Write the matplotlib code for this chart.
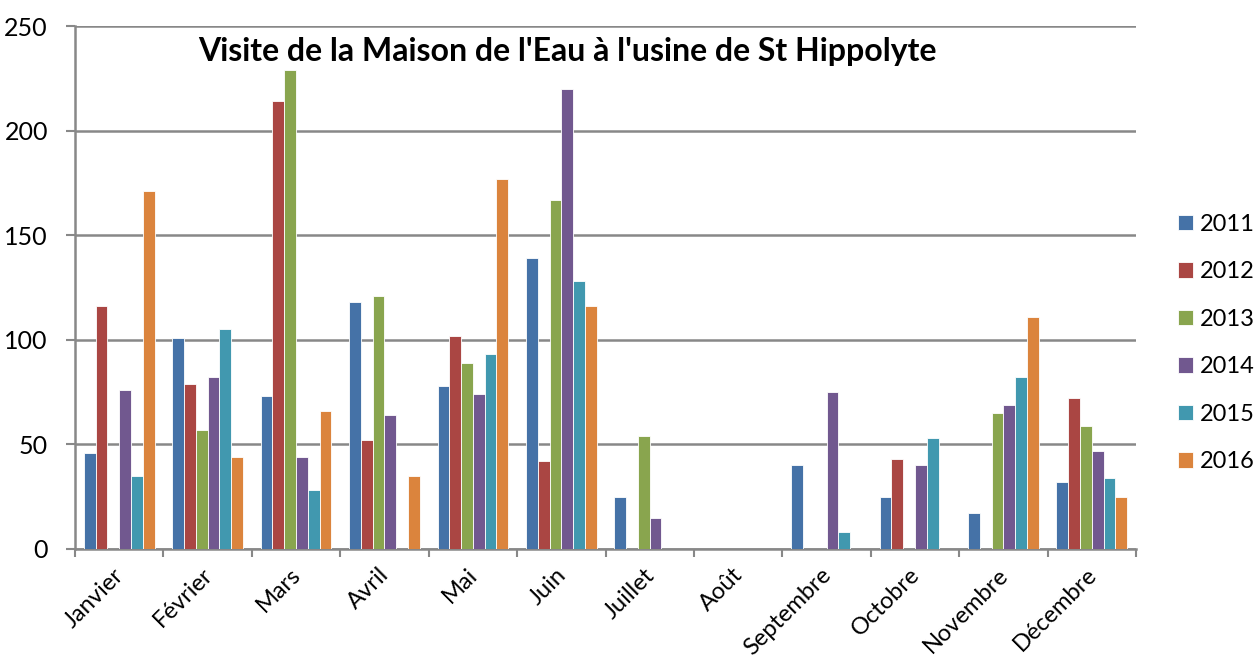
import matplotlib
matplotlib.use("Agg")
import matplotlib.pyplot as plt
import matplotlib.transforms as mtransforms
import numpy as np

months = ["Janvier", "Février", "Mars", "Avril", "Mai", "Juin", "Juillet",
          "Août", "Septembre", "Octobre", "Novembre", "Décembre"]
years = ["2011", "2012", "2013", "2014", "2015", "2016"]
v2011 = [46, 101, 73, 118, 78, 139, 25, 0, 40, 25, 17, 32]
v2012 = [116, 79, 214, 52, 102, 42, 0, 0, 0, 43, 0, 72]
v2013 = [0, 57, 229, 121, 89, 167, 54, 0, 0, 0, 65, 59]
v2014 = [76, 82, 44, 64, 74, 220, 15, 0, 75, 40, 69, 47]
v2015 = [35, 105, 28, 0, 93, 128, 0, 0, 8, 53, 82, 34]
v2016 = [171, 44, 66, 35, 177, 116, 0, 0, 0, 0, 111, 25]
series = [v2011, v2012, v2013, v2014, v2015, v2016]
colors = ["#4572A7", "#AA4643", "#89A54E", "#71588F", "#4198AF", "#DB843D"]
title = "Visite de la Maison de l'Eau à l'usine de St Hippolyte"
yticks = [0, 50, 100, 150, 200, 250]

plt.rcParams['font.family'] = ['Lato', 'DejaVu Sans']

fig = plt.figure(figsize=(12.57, 6.65), dpi=100)
ax = fig.add_axes([75/1257, 1-549/665, (1136-75)/1257, (549-26)/665])

n = len(series)
group = 0.8
bw = group / n
x = np.arange(len(months))
for i, (vals, col, lab) in enumerate(zip(series, colors, years)):
    ax.bar(x - group/2 + bw*(i+0.5), vals, width=bw, color=col,
           edgecolor="white", linewidth=0.6, label=lab, zorder=3)

ax.set_xlim(-0.5, len(months)-0.5)
ax.set_ylim(0, 250)
ax.set_yticks(yticks)
ax.set_yticklabels([str(t) for t in yticks], fontsize=18)
ax.yaxis.grid(True, color="#888888", linewidth=1.8, zorder=0)
ax.set_axisbelow(True)

ax.set_xticks(np.arange(len(months)+1) - 0.5, minor=False)
ax.set_xticklabels([])
ax.set_xticks(x, minor=True)
ax.set_xticklabels(months, minor=True, rotation=45, ha="right",
                   rotation_mode="anchor", fontsize=17)
ax.tick_params(axis="x", which="minor", length=0, pad=11)
ax.tick_params(axis="x", which="major", length=6, width=1.5, color="#888888", direction="out")
ax.tick_params(axis="y", length=6.5, width=1.5, color="#888888", direction="out", pad=13)
shift = mtransforms.ScaledTranslation(-6/100, 0, fig.dpi_scale_trans)
for lbl in ax.get_xticklabels(minor=True):
    lbl.set_transform(lbl.get_transform() + shift)

for s in ["top", "right"]:
    ax.spines[s].set_visible(False)
for s in ["left", "bottom"]:
    ax.spines[s].set_color("#888888")
    ax.spines[s].set_linewidth(1.8)

ax.text(567/1257, 1-52/665, title, transform=fig.transFigure, ha="center",
        va="center", fontsize=23, fontweight="bold")

leg = fig.legend(loc="center left", bbox_to_anchor=(1178/1257, 1-343/665),
                 frameon=False, fontsize=17, handlelength=0.64, handleheight=0.64,
                 labelspacing=1.12, handletextpad=0.3, borderpad=0,
                 borderaxespad=0)

fig.savefig("out.png", dpi=100)
